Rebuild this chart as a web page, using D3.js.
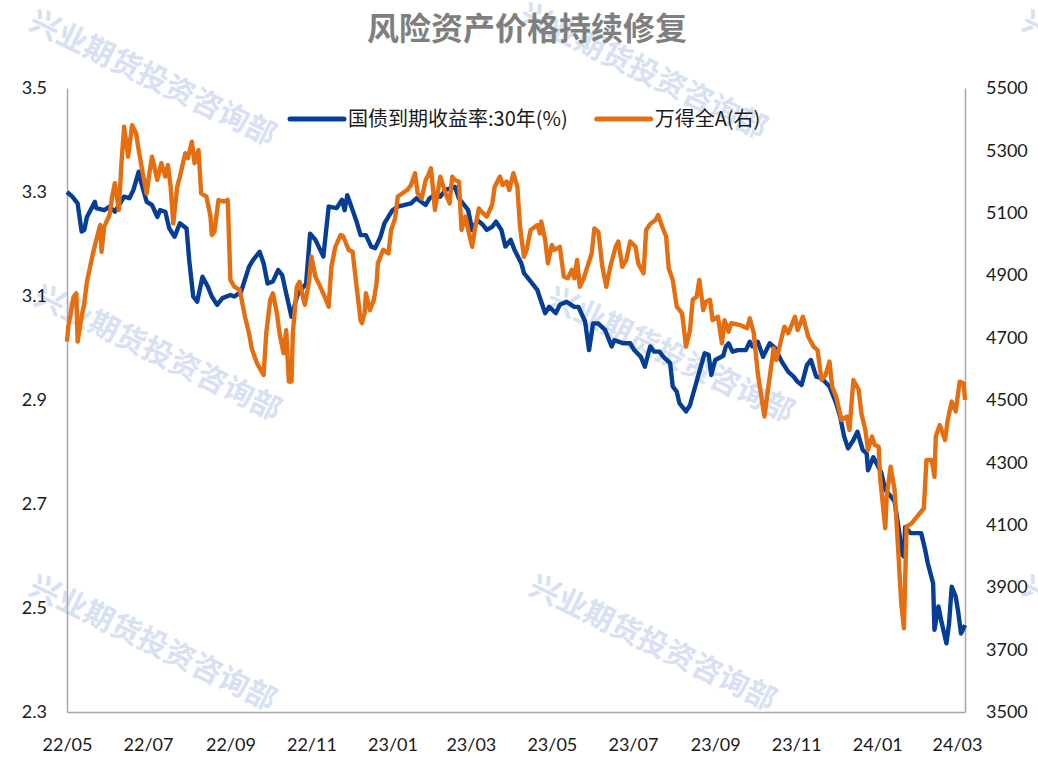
<!DOCTYPE html>
<html>
<head>
<meta charset="utf-8">
<script src="https://cdn.jsdelivr.net/npm/d3@7"></script>
<style>
body { margin: 0; background: #fff; }
</style>
</head>
<body>
<div id="chart"></div>
<script>
// 30Y treasury yield (left axis, %)
var yieldDates = ["2022-05-05","2022-05-09","2022-05-13","2022-05-16","2022-05-18","2022-05-20","2022-05-26","2022-05-27","2022-06-02","2022-06-06","2022-06-10","2022-06-14","2022-06-17","2022-06-21","2022-06-24","2022-06-28","2022-06-30","2022-07-04","2022-07-08","2022-07-12","2022-07-14","2022-07-18","2022-07-21","2022-07-25","2022-07-29","2022-08-03","2022-08-05","2022-08-08","2022-08-11","2022-08-15","2022-08-19","2022-08-22","2022-08-26","2022-08-30","2022-09-05","2022-09-08","2022-09-13","2022-09-19","2022-09-22","2022-09-27","2022-09-30","2022-10-03","2022-10-07","2022-10-11","2022-10-14","2022-10-17","2022-10-21","2022-10-24","2022-10-26","2022-11-01","2022-11-04","2022-11-08","2022-11-14","2022-11-18","2022-11-24","2022-11-28","2022-11-30","2022-12-02","2022-12-06","2022-12-09","2022-12-12","2022-12-16","2022-12-20","2022-12-23","2022-12-27","2022-12-30","2023-01-05","2023-01-09","2023-01-19","2023-01-23","2023-01-30","2023-02-02","2023-02-07","2023-02-10","2023-02-14","2023-02-21","2023-02-24","2023-02-28","2023-03-03","2023-03-06","2023-03-10","2023-03-14","2023-03-17","2023-03-21","2023-03-24","2023-03-28","2023-03-31","2023-04-04","2023-04-07","2023-04-12","2023-04-14","2023-04-19","2023-04-24","2023-04-27","2023-04-30","2023-05-03","2023-05-08","2023-05-11","2023-05-16","2023-05-22","2023-05-25","2023-05-30","2023-06-02","2023-06-05","2023-06-09","2023-06-14","2023-06-19","2023-06-21","2023-06-28","2023-07-03","2023-07-06","2023-07-11","2023-07-14","2023-07-18","2023-07-21","2023-07-25","2023-07-28","2023-08-02","2023-08-04","2023-08-07","2023-08-09","2023-08-14","2023-08-17","2023-08-18","2023-08-23","2023-08-28","2023-08-31","2023-09-02","2023-09-05","2023-09-11","2023-09-13","2023-09-15","2023-09-18","2023-09-22","2023-09-28","2023-10-01","2023-10-03","2023-10-07","2023-10-11","2023-10-16","2023-10-20","2023-10-25","2023-10-30","2023-11-03","2023-11-06","2023-11-09","2023-11-13","2023-11-16","2023-11-20","2023-11-24","2023-11-30","2023-12-05","2023-12-08","2023-12-11","2023-12-14","2023-12-18","2023-12-21","2023-12-25","2023-12-28","2023-12-29","2024-01-02","2024-01-03","2024-01-08","2024-01-11","2024-01-15","2024-01-18","2024-01-22","2024-01-23","2024-01-25","2024-01-26","2024-01-30","2024-02-07","2024-02-10","2024-02-12","2024-02-16","2024-02-17","2024-02-20","2024-02-22","2024-02-26","2024-02-28","2024-03-01","2024-03-04","2024-03-06","2024-03-08","2024-03-11"];
var yieldValues = [3.300,3.291,3.278,3.224,3.227,3.252,3.281,3.269,3.265,3.272,3.262,3.278,3.291,3.288,3.304,3.339,3.317,3.281,3.275,3.252,3.265,3.262,3.230,3.214,3.240,3.230,3.169,3.099,3.089,3.137,3.118,3.099,3.083,3.096,3.102,3.099,3.108,3.156,3.169,3.185,3.163,3.124,3.128,3.150,3.140,3.105,3.060,3.089,3.105,3.124,3.220,3.208,3.176,3.272,3.269,3.285,3.265,3.294,3.265,3.243,3.217,3.217,3.195,3.192,3.214,3.240,3.265,3.272,3.278,3.288,3.275,3.288,3.297,3.291,3.304,3.310,3.288,3.275,3.265,3.227,3.246,3.237,3.227,3.233,3.243,3.227,3.195,3.208,3.188,3.163,3.144,3.128,3.112,3.089,3.067,3.079,3.067,3.083,3.089,3.079,3.079,3.051,2.996,3.047,3.047,3.035,3.003,3.015,3.009,3.009,2.996,2.983,2.964,3.003,2.993,2.993,2.983,2.971,2.926,2.916,2.894,2.878,2.890,2.900,2.945,2.990,2.987,2.948,2.977,2.985,3.003,3.009,2.993,2.996,2.996,3.012,3.003,3.012,2.983,3.009,3.000,2.974,2.954,2.945,2.935,2.929,2.967,2.977,2.945,2.942,2.926,2.894,2.868,2.830,2.807,2.823,2.839,2.804,2.797,2.765,2.790,2.785,2.760,2.727,2.715,2.705,2.637,2.605,2.599,2.656,2.644,2.644,2.612,2.586,2.547,2.458,2.503,2.477,2.432,2.470,2.541,2.522,2.490,2.451,2.467];

// Wind All A index (right axis)
var wdaDates = ["2022-05-05","2022-05-06","2022-05-10","2022-05-12","2022-05-13","2022-05-16","2022-05-18","2022-05-20","2022-05-24","2022-05-27","2022-05-30","2022-05-31","2022-06-02","2022-06-06","2022-06-08","2022-06-10","2022-06-13","2022-06-15","2022-06-17","2022-06-20","2022-06-23","2022-06-26","2022-06-28","2022-07-01","2022-07-04","2022-07-06","2022-07-08","2022-07-12","2022-07-15","2022-07-18","2022-07-20","2022-07-22","2022-07-24","2022-07-27","2022-07-29","2022-08-02","2022-08-04","2022-08-07","2022-08-09","2022-08-12","2022-08-14","2022-08-18","2022-08-21","2022-08-22","2022-08-24","2022-08-27","2022-08-31","2022-09-03","2022-09-05","2022-09-08","2022-09-12","2022-09-16","2022-09-19","2022-09-21","2022-09-25","2022-09-30","2022-10-02","2022-10-05","2022-10-07","2022-10-10","2022-10-12","2022-10-15","2022-10-17","2022-10-19","2022-10-21","2022-10-22","2022-10-25","2022-10-27","2022-10-31","2022-11-03","2022-11-05","2022-11-08","2022-11-11","2022-11-15","2022-11-18","2022-11-20","2022-11-23","2022-11-27","2022-11-29","2022-12-03","2022-12-06","2022-12-09","2022-12-12","2022-12-13","2022-12-15","2022-12-16","2022-12-19","2022-12-22","2022-12-24","2022-12-25","2022-12-29","2023-01-02","2023-01-04","2023-01-07","2023-01-09","2023-01-16","2023-01-19","2023-01-22","2023-01-24","2023-01-27","2023-01-30","2023-02-01","2023-02-03","2023-02-06","2023-02-10","2023-02-14","2023-02-17","2023-02-19","2023-02-21","2023-02-24","2023-02-26","2023-03-01","2023-03-03","2023-03-06","2023-03-08","2023-03-11","2023-03-13","2023-03-17","2023-03-21","2023-03-23","2023-03-27","2023-03-29","2023-04-01","2023-04-03","2023-04-06","2023-04-09","2023-04-11","2023-04-14","2023-04-16","2023-04-19","2023-04-24","2023-04-26","2023-04-27","2023-04-30","2023-05-02","2023-05-05","2023-05-07","2023-05-11","2023-05-14","2023-05-17","2023-05-20","2023-05-22","2023-05-24","2023-05-26","2023-05-29","2023-05-31","2023-06-04","2023-06-06","2023-06-09","2023-06-12","2023-06-15","2023-06-18","2023-06-22","2023-06-24","2023-06-27","2023-06-30","2023-07-03","2023-07-07","2023-07-09","2023-07-13","2023-07-15","2023-07-18","2023-07-22","2023-07-24","2023-07-27","2023-07-30","2023-08-01","2023-08-04","2023-08-07","2023-08-11","2023-08-14","2023-08-17","2023-08-19","2023-08-22","2023-08-24","2023-08-27","2023-08-29","2023-09-01","2023-09-03","2023-09-07","2023-09-10","2023-09-12","2023-09-15","2023-09-17","2023-09-24","2023-09-29","2023-10-01","2023-10-04","2023-10-07","2023-10-12","2023-10-15","2023-10-19","2023-10-21","2023-10-24","2023-10-27","2023-10-30","2023-11-04","2023-11-06","2023-11-10","2023-11-14","2023-11-18","2023-11-21","2023-11-24","2023-11-27","2023-11-30","2023-12-02","2023-12-05","2023-12-09","2023-12-13","2023-12-15","2023-12-18","2023-12-22","2023-12-24","2023-12-27","2023-12-29","2024-01-01","2024-01-03","2024-01-06","2024-01-07","2024-01-11","2024-01-12","2024-01-15","2024-01-18","2024-01-21","2024-01-23","2024-01-25","2024-01-27","2024-01-31","2024-02-09","2024-02-11","2024-02-15","2024-02-17","2024-02-18","2024-02-21","2024-02-25","2024-02-27","2024-03-01","2024-03-04","2024-03-07","2024-03-10","2024-03-11"];
var wdaValues = [4687,4735,4831,4842,4687,4767,4810,4879,4959,5013,5061,4975,5055,5093,5152,5195,5109,5259,5376,5280,5381,5355,5301,5227,5162,5227,5280,5205,5259,5216,5253,5184,5066,5184,5216,5291,5275,5328,5259,5301,5162,5152,5088,5029,5039,5141,5136,5141,4885,4863,4853,4767,4714,4666,4618,4580,4714,4821,4842,4778,4714,4650,4724,4559,4559,4714,4863,4879,4805,4874,4959,4895,4869,4831,4799,4927,4991,5029,5024,4981,4975,4863,4756,4746,4778,4842,4788,4821,4874,4938,4981,4970,5045,5082,5152,5173,5189,5227,5162,5146,5205,5221,5243,5109,5216,5162,5130,5216,5205,5200,5045,5088,5045,4991,5045,5114,5104,5088,5125,5184,5216,5189,5200,5173,5227,5184,5056,4959,4981,5045,5061,5034,5072,5013,4938,4997,4981,4991,4895,4890,4917,4890,4949,4863,4890,4917,4970,5050,5039,4927,4863,4927,4991,5008,4927,4949,5008,4991,4938,4906,5045,5064,5077,5093,5056,5024,4922,4885,4799,4778,4671,4724,4821,4831,4885,4788,4815,4821,4756,4767,4682,4756,4719,4746,4740,4730,4762,4714,4586,4447,4543,4666,4628,4682,4735,4714,4767,4724,4767,4703,4671,4660,4564,4580,4623,4543,4511,4436,4447,4404,4564,4532,4457,4404,4340,4383,4356,4350,4254,4089,4190,4286,4212,3998,3848,3768,4094,4105,4153,4308,4308,4254,4383,4420,4372,4436,4495,4463,4559,4553,4500];

var leftTicks = [2.3, 2.5, 2.7, 2.9, 3.1, 3.3, 3.5];
var rightTicks = [3500, 3700, 3900, 4100, 4300, 4500, 4700, 4900, 5100, 5300, 5500];
var seriesNames = ["国债到期收益率:30年(%)", "万得全A(右)"];
var seriesColors = ["#063e96", "#e56e10"];
var titleText = "风险资产价格持续修复";
var markText = "兴业期货投资咨询部";

var width = 1038,
    height = 757;
var plot = {left: 67, right: 965, top: 88, bottom: 712};

var svg = d3.select("#chart").append("svg")
    .attr("width", width)
    .attr("height", height)
    .style("font-family", "Lato, 'Noto Sans CJK SC', sans-serif");

var parse = d3.timeParse("%Y-%m-%d");
var yieldData = yieldDates.map(function(d, i) { return {date: parse(d), value: yieldValues[i]}; });
var wdaData = wdaDates.map(function(d, i) { return {date: parse(d), value: wdaValues[i]}; });

var x = d3.scaleTime()
    .domain([parse(yieldDates[0]), parse(yieldDates[yieldDates.length - 1])])
    .range([plot.left, plot.right]);
var yL = d3.scaleLinear().domain([2.3, 3.5]).range([plot.bottom, plot.top]);
var yR = d3.scaleLinear().domain([3500, 5500]).range([plot.bottom, plot.top]);

// watermark, drawn first so everything sits on top (clipped at the edges like the original)
var markPos = [[27, 28], [518, 21], [1020, 28], [32, 303], [545, 305], [27, 593], [527, 593], [1020, 593]];
svg.selectAll(".mark")
    .data(markPos)
  .enter().append("text")
  .attr("class", "mark")
  .attr("transform", function(d) { return "translate(" + d[0] + "," + d[1] + ") rotate(26)"; })
  .style("font-family", "'Noto Sans CJK SC'")
  .style("font-weight", "bold")
  .style("font-size", "30px")
  .style("fill", "#d8e1f4")
  .text(markText);

// axes
var xTicks = d3.range(12).map(function(i) { return d3.timeMonth.offset(x.domain()[0], 2 * i); });

var gx = svg.append("g")
    .attr("transform", "translate(0," + plot.bottom + ")")
    .call(d3.axisBottom(x).tickValues(xTicks).tickFormat(d3.timeFormat("%y/%m")).tickSize(0).tickPadding(26));
var gl = svg.append("g")
    .attr("transform", "translate(" + plot.left + ",0)")
    .call(d3.axisLeft(yL).tickValues(leftTicks).tickFormat(d3.format(".1f")).tickSize(0).tickPadding(20));
var gr = svg.append("g")
    .attr("transform", "translate(" + plot.right + ",0)")
    .call(d3.axisRight(yR).tickValues(rightTicks).tickFormat(d3.format("d")).tickSize(0).tickPadding(21));

[gx, gl, gr].forEach(function(g) {
  g.select(".domain").attr("stroke", "#a6a6a6").attr("stroke-width", 1.5);
  g.selectAll("text")
    .style("font-family", "Lato, sans-serif")
    .style("font-size", "18px")
    .style("fill", "#1a1a1a");
});

// lines
var lineL = d3.line().x(function(d) { return x(d.date); }).y(function(d) { return yL(d.value); });
var lineR = d3.line().x(function(d) { return x(d.date); }).y(function(d) { return yR(d.value); });

svg.append("path")
    .datum(yieldData)
    .attr("d", lineL)
    .attr("fill", "none")
    .attr("stroke", seriesColors[0])
    .attr("stroke-width", 4.4)
    .attr("stroke-linejoin", "round");
svg.append("path")
    .datum(wdaData)
    .attr("d", lineR)
    .attr("fill", "none")
    .attr("stroke", seriesColors[1])
    .attr("stroke-width", 4.4)
    .attr("stroke-linejoin", "round");

// legend
var legendY = 119;
var lx = 290;
seriesNames.forEach(function(name, i) {
  svg.append("line")
    .attr("x1", lx).attr("x2", lx + 54)
    .attr("y1", legendY).attr("y2", legendY)
    .attr("stroke", seriesColors[i])
    .attr("stroke-width", 5)
    .attr("stroke-linecap", "round");
  var t = svg.append("text")
    .attr("x", lx + 58)
    .attr("y", legendY)
    .attr("dy", "0.36em")
    .style("font-family", "'Noto Sans CJK SC'")
    .style("font-size", "20px")
    .style("fill", "#1a1a1a")
    .text(name);
  lx = lx + 58 + t.node().getComputedTextLength() + 29;
});

// title
svg.append("text")
    .attr("x", 527)
    .attr("y", 40)
    .attr("text-anchor", "middle")
    .style("font-family", "'Noto Sans CJK SC'")
    .style("font-weight", "bold")
    .style("font-size", "32px")
    .style("fill", "#7f7f7f")
    .text(titleText);
</script>
</body>
</html>
